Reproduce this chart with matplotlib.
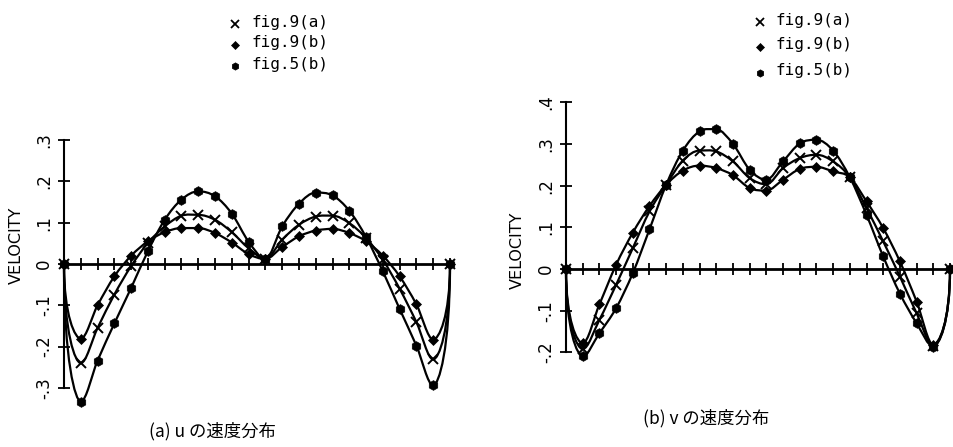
import numpy as np
import matplotlib
matplotlib.use("Agg")
import matplotlib.pyplot as plt
from matplotlib.path import Path
from matplotlib.patches import PathPatch
from matplotlib.lines import Line2D

plt.rcParams['font.family'] = ['DejaVu Sans']

# grid points across the section
x_idx = np.arange(24)

# (a) u velocity
u_fig9a = [0.0, -0.240, -0.155, -0.074, -0.005, 0.051, 0.091, 0.117, 0.119, 0.107, 0.077, 0.038,
           0.012, 0.059, 0.095, 0.115, 0.117, 0.099, 0.063, 0.010, -0.060, -0.141, -0.231, 0.0]
u_fig9b = [0.0, -0.181, -0.100, -0.030, 0.020, 0.055, 0.077, 0.087, 0.087, 0.075, 0.052, 0.024,
           0.012, 0.041, 0.067, 0.081, 0.085, 0.075, 0.055, 0.020, -0.030, -0.098, -0.183, 0.0]
u_fig5b = [0.0, -0.333, -0.234, -0.144, -0.058, 0.031, 0.107, 0.156, 0.176, 0.164, 0.122, 0.054,
           0.012, 0.091, 0.146, 0.173, 0.166, 0.129, 0.065, -0.018, -0.109, -0.198, -0.294, 0.0]

# (b) v velocity
v_fig9a = [0.0, -0.192, -0.122, -0.038, 0.050, 0.138, 0.202, 0.260, 0.284, 0.282, 0.258, 0.218,
           0.203, 0.242, 0.266, 0.274, 0.258, 0.220, 0.146, 0.066, -0.018, -0.106, -0.184, 0.0]
v_fig9b = [0.0, -0.178, -0.085, 0.010, 0.087, 0.151, 0.202, 0.236, 0.248, 0.242, 0.225, 0.194,
           0.188, 0.214, 0.240, 0.245, 0.234, 0.220, 0.162, 0.098, 0.018, -0.078, -0.182, 0.0]
v_fig5b = [0.0, -0.209, -0.154, -0.094, -0.010, 0.095, 0.202, 0.284, 0.330, 0.335, 0.300, 0.238,
           0.214, 0.258, 0.301, 0.310, 0.284, 0.220, 0.130, 0.030, -0.059, -0.130, -0.186, 0.0]

labels = ['fig.9(a)', 'fig.9(b)', 'fig.5(b)']
markers = ['x', 'D', 'h']
msizes = [7.5, 5.5, 7]

u_ticks = [-0.3, -0.2, -0.1, 0.0, 0.1, 0.2, 0.3]
u_ticklabels = ['-.3', '-.2', '-.1', '0', '.1', '.2', '.3']
v_ticks = [-0.2, -0.1, 0.0, 0.1, 0.2, 0.3, 0.4]
v_ticklabels = ['-.2', '-.1', '0', '.1', '.2', '.3', '.4']

W, H = 954, 447


def smooth_path(x, y):
    # cubic bezier through the points, flat at local extrema, vertical at the walls
    x = np.asarray(x, float)
    y = np.asarray(y, float)
    n = len(x)
    m = np.zeros(n)
    for i in range(1, n - 1):
        if (y[i] - y[i - 1]) * (y[i + 1] - y[i]) > 0:
            m[i] = (y[i + 1] - y[i - 1]) / (x[i + 1] - x[i - 1])
    verts = [(x[0], y[0])]
    codes = [Path.MOVETO]
    for i in range(n - 1):
        h = x[i + 1] - x[i]
        if i == 0:
            c1 = (x[i], y[i] + 0.7 * (y[i + 1] - y[i]))
        else:
            c1 = (x[i] + h / 3, y[i] + m[i] * h / 3)
        if i == n - 2:
            c2 = (x[i + 1], y[i + 1] + 0.7 * (y[i] - y[i + 1]))
        else:
            c2 = (x[i + 1] - h / 3, y[i + 1] - m[i + 1] * h / 3)
        verts += [c1, c2, (x[i + 1], y[i + 1])]
        codes += [Path.CURVE4] * 3
    return Path(verts, codes)


def px_axes(fig, x0, x1, y_top, y_bot):
    return fig.add_axes([x0 / W, (H - y_bot) / H, (x1 - x0) / W, (y_bot - y_top) / H])


def draw_panel(ax, series, ticks, ticklabels):
    for ys, mk, ms in zip(series, markers, msizes):
        ax.add_patch(PathPatch(smooth_path(x_idx, ys), facecolor='none',
                               edgecolor='black', lw=1.6, clip_on=False))
        ax.plot(x_idx, ys, ls='none', marker=mk, ms=ms, color='black',
                mew=1.4 if mk == 'x' else 0.5, clip_on=False)
    for s in ['top', 'right']:
        ax.spines[s].set_visible(False)
    ax.spines['left'].set_position(('data', 0))
    ax.spines['left'].set_bounds(ticks[0], ticks[-1])
    ax.spines['bottom'].set_position(('data', 0))
    ax.spines['bottom'].set_bounds(0, 23)
    ax.spines['left'].set_linewidth(1.5)
    ax.spines['bottom'].set_linewidth(2.0)
    ax.set_xticks(x_idx)
    ax.set_xticklabels([])
    ax.tick_params(axis='x', direction='inout', length=9, width=1.3)
    ax.set_yticks(ticks)
    ax.set_yticklabels(ticklabels, rotation=90, va='center')
    ax.tick_params(axis='y', direction='inout', length=8, width=1.3, labelsize=12, pad=4)
    ax.set_xlim(0, 23)
    ax.patch.set_visible(False)


fig = plt.figure(figsize=(W / 100, H / 100), dpi=100)

# left panel: y=0 at 264 px, 0.1 -> 41.3 px
ax1 = px_axes(fig, 64, 450, 264 - 4 * 41.3, 264 + 4 * 41.3)
draw_panel(ax1, [u_fig9a, u_fig9b, u_fig5b], u_ticks, u_ticklabels)
ax1.set_ylim(-0.4, 0.4)
ax1.set_ylabel('VELOCITY', fontsize=11.5)
ax1.yaxis.set_label_coords(-0.104, 0.5575)

# right panel: y=0 at 269 px, 0.1 -> 41.7 px
ax2 = px_axes(fig, 566, 950, 269 - 5 * 41.7, 269 + 3 * 41.7)
draw_panel(ax2, [v_fig9a, v_fig9b, v_fig5b], v_ticks, v_ticklabels)
ax2.set_ylim(-0.3, 0.5)
ax2.set_ylabel('VELOCITY', fontsize=11.5)
ax2.yaxis.set_label_coords(-0.107, 0.43)

# legends
for (mx, tx, rows) in [(235, 252, [22, 43, 64]), (760, 776, [20, 45, 71])]:
    for lab, mk, ms, ry in zip(labels, markers, msizes, rows):
        fig.add_artist(Line2D([mx / W], [1 - (ry + 2) / H], transform=fig.transFigure,
                              marker=mk, ms=ms * 0.75, color='black', ls='none',
                              mew=1.3 if mk == 'x' else 0.5))
        fig.text(tx / W, 1 - ry / H, lab, fontsize=11.5, family='DejaVu Sans Mono',
                 ha='left', va='center')

cap_font = ['Noto Sans CJK JP', 'DejaVu Sans']
fig.text(212 / W, 1 - 431 / H, '(a) u の速度分布', fontsize=12.5, family=cap_font,
         ha='center', va='center')
fig.text(706 / W, 1 - 418 / H, '(b) v の速度分布', fontsize=12.5, family=cap_font,
         ha='center', va='center')

fig.savefig('out.png', dpi=100)
